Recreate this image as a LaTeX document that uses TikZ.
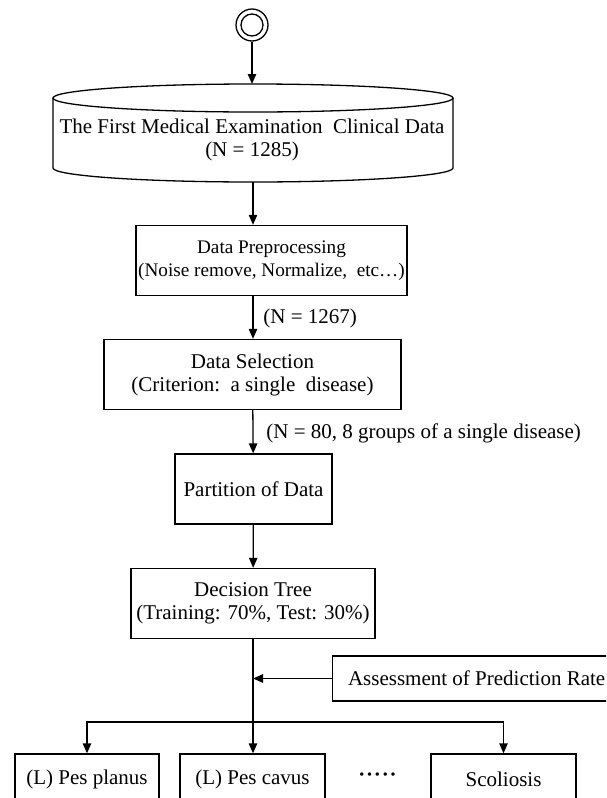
\documentclass[tikz,border=0pt]{standalone}
\usepackage{fontspec}
\setmainfont{Liberation Serif}
\usetikzlibrary{arrows.meta}

\begin{document}
\begin{tikzpicture}[x=0.5pt, y=-0.5pt,
    font=\fontsize{10.5}{11.5}\selectfont,
    box/.style={draw, line width=0.65pt, align=center, inner sep=0pt, minimum height=35pt},
    arr/.style={line width=0.65pt, -{Triangle[length=5pt, width=4.2pt]}},
    lbl/.style={anchor=west, inner sep=0pt}]
			%%%%% START %%%%%
			
			\clip (0, 0) rectangle (606, 798);
			
			\node (start) [circle, draw, line width=0.65pt, minimum size=16pt, inner sep=0pt] at (252, 25) {};
			\node (startin) [circle, draw, line width=0.65pt, minimum size=11pt, inner sep=0pt] at (start) {};
			
			% database
			\draw[line width=0.65pt] (53, 98) -- (53, 168) arc[start angle=180, end angle=360, x radius=100pt, y radius=7pt] -- (453, 98);
			\draw[line width=0.65pt] (253, 98) ellipse [x radius=100pt, y radius=7pt];
			\coordinate (dbtop) at (252, 84);
			\coordinate (dbbot) at (253, 182);
			\node (db) [align=center] at (252, 139.5) {The First Medical Examination\ \ Clinical Data\\(N = 1285)};
			
			\draw[arr] (start) -- (dbtop);
			
			\node (prep) [box, minimum width=135.5pt, font=\fontsize{9.6}{11.5}\selectfont] at (271.5, 260.5) {Data Preprocessing\\(Noise remove, Normalize,\ \ etc…)};
			\draw[arr] (dbbot) -- (dbbot |- prep.north);
			
			\node (sel) [box, minimum width=148.5pt] at (252.5, 374.5) {Data Selection\\(Criterion:\ \ a single\ \ disease)};
			\draw[arr] (dbbot |- prep.south) -- (dbbot |- sel.north);
			\node (n1267) [lbl] at (263, 318) {(N = 1267)};
			
			\node (part) [box, minimum width=78.5pt] at (253.5, 489) {Partition of Data};
			\draw[arr] (sel) -- (part);
			\node (n80) [lbl] at (266, 433) {(N = 80, 8 groups of a single disease)};
			
			\node (tree) [box, minimum width=122pt] at (253, 603.5) {Decision Tree\\(Training: 70\%, Test: 30\%)};
			\draw[arr] (part) -- (tree);
			
			\node (assess) [box, minimum width=138pt, minimum height=22.5pt, anchor=west] at (332, 678.5) {\hspace{6pt}Assessment of Prediction Rate};
			
			% classes
			\coordinate (split) at (253, 722);
			\node (planus) [box, minimum width=72pt, minimum height=25pt] at (87, 779) {(L) Pes planus};
			\node (cavus) [box, minimum width=72.5pt, minimum height=25pt] at (252.5, 779) {(L) Pes cavus};
			\node (dots) at (377.5, 777) {\textbf{·\kern0.4pt·\kern0.4pt·\kern0.4pt·\kern0.4pt·}};
			\node (scol) [box, minimum width=72.5pt, minimum height=25pt] at (503.5, 779) {Scoliosis};
			
			\draw[arr] (tree) -- (tree.south |- cavus.north);
			\draw[arr] (split) -| (planus);
			\draw[arr] (split) -| (scol);
			\draw[arr] (assess) -- (assess -| tree);
			
			%%%%% END %%%%%
		\end{tikzpicture}
\end{document}
